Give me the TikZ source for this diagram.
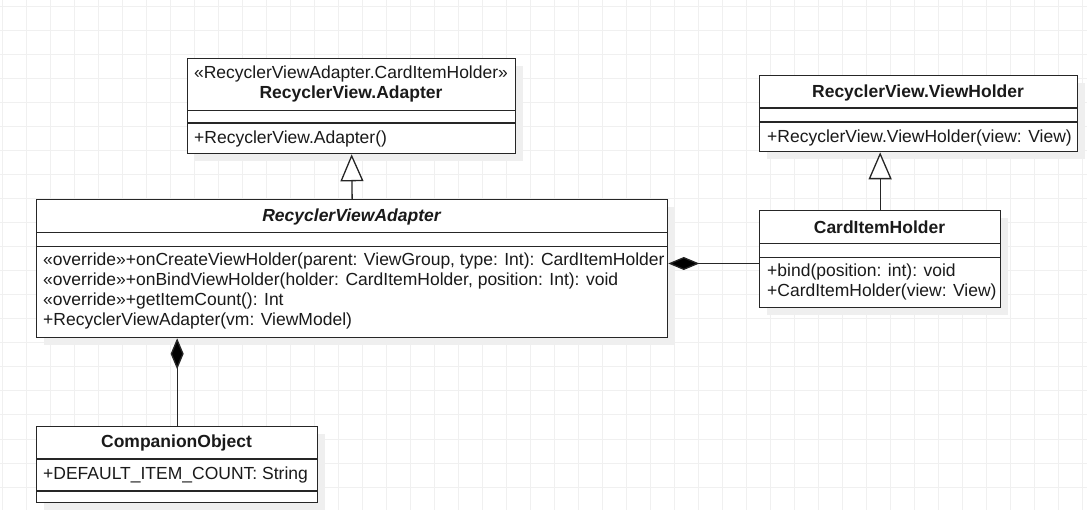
\documentclass[tikz,border=0pt]{standalone}
\usepackage{fontspec}
\setmainfont{Liberation Sans}
\usetikzlibrary{arrows.meta}
\definecolor{gridc}{HTML}{F0F0F0}
\definecolor{shadowc}{HTML}{EFEFEF}
\definecolor{linec}{HTML}{262626}
\definecolor{textc}{HTML}{1A1A1A}
\tikzset{
  boxline/.style={draw=linec, line width=1.3pt},
  classbox/.style={boxline, fill=white, rectangle, inner sep=0pt, anchor=north west},
  txt/.style={inner sep=0pt, text=textc, font=\fontsize{17.5}{20}\selectfont},
  title/.style={txt, font=\fontsize{17.5}{20}\selectfont\bfseries},
  member/.style={txt, anchor=west, align=left},
  inherit/.style={boxline, -{Triangle[open, length=27pt, width=23pt, fill=white]}},
  compose/.style={boxline, -{Diamond[length=31pt, width=13pt, fill=black]}},
}
\begin{document}
\begin{tikzpicture}[x=1pt, y=-1pt]
\useasboundingbox (0,0) rectangle (1087,510);
\fill[white] (0,0) rectangle (1087,510);
% grid
\foreach \x in {2,26,...,1082} \draw[gridc, line width=1pt] (\x,0) -- (\x,510);
\foreach \y in {7,31,...,510} \draw[gridc, line width=1pt] (0,\y) -- (1087,\y);
% shadows
\fill[shadowc] (195,66) rectangle (523,161);
\fill[shadowc] (44,207) rectangle (675,345);
\fill[shadowc] (767,83) rectangle (1085,159);
\fill[shadowc] (767,218) rectangle (1008,315);
\fill[shadowc] (44,434) rectangle (325,510);
% boxes
\node[classbox, minimum width=328pt, minimum height=95pt] (A) at (187,58) {};
\node[classbox, minimum width=631pt, minimum height=138pt] (R) at (36,199) {};
\node[classbox, minimum width=318pt, minimum height=76pt] (V) at (759,75) {};
\node[classbox, minimum width=241pt, minimum height=97pt] (C) at (759,210) {};
\node[classbox, minimum width=281pt, minimum height=76pt] (O) at (36,426) {};
% dividers
\draw[boxline] (187,110.5) -- (515,110.5) (187,123) -- (515,123);
\draw[boxline] (36,232.5) -- (667,232.5) (36,246.5) -- (667,246.5);
\draw[boxline] (759,108) -- (1077,108) (759,122) -- (1077,122);
\draw[boxline] (759,243.5) -- (1000,243.5) (759,257.5) -- (1000,257.5);
\draw[boxline] (36,459) -- (317,459) (36,491) -- (317,491);
% texts
\node[txt] (As) at (351,74) {«RecyclerViewAdapter.CardItemHolder»};
\node[title] (At) at (351,93.5) {RecyclerView.Adapter};
\node[member] (Am) at (194,139) {+RecyclerView.Adapter()};
\node[title, font=\fontsize{17.5}{20}\selectfont\bfseries\itshape] (Rt) at (351.5,216.5) {RecyclerViewAdapter};
\node[member] (Rm) at (43,290.5) {«override»+onCreateViewHolder(parent: ViewGroup, type: Int): CardItemHolder\\
«override»+onBindViewHolder(holder: CardItemHolder, position: Int): void\\
«override»+getItemCount(): Int\\
+RecyclerViewAdapter(vm: ViewModel)};
\node[title] (Vt) at (918,92.5) {RecyclerView.ViewHolder};
\node[member] (Vm) at (767,137.5) {+RecyclerView.ViewHolder(view: View)};
\node[title] (Ct) at (879.5,227) {CardItemHolder};
\node[member] (Cm) at (767,281.5) {+bind(position: int): void\\+CardItemHolder(view: View)};
\node[title] (Ot) at (176.5,443) {CompanionObject};
\node[member] (Om) at (43,474.5) {+DEFAULT\_ITEM\_COUNT: String};
% connectors
\coordinate (cy) at (0,263.5);
\draw[inherit] (R.north) -- (A.south);
\draw[inherit] (C.north) -- (C.north |- V.south);
\draw[compose] (C.west |- cy) -- (R.east |- cy);
\draw[compose] (O.north) -- (O.north |- R.south);
\end{tikzpicture}
\end{document}
